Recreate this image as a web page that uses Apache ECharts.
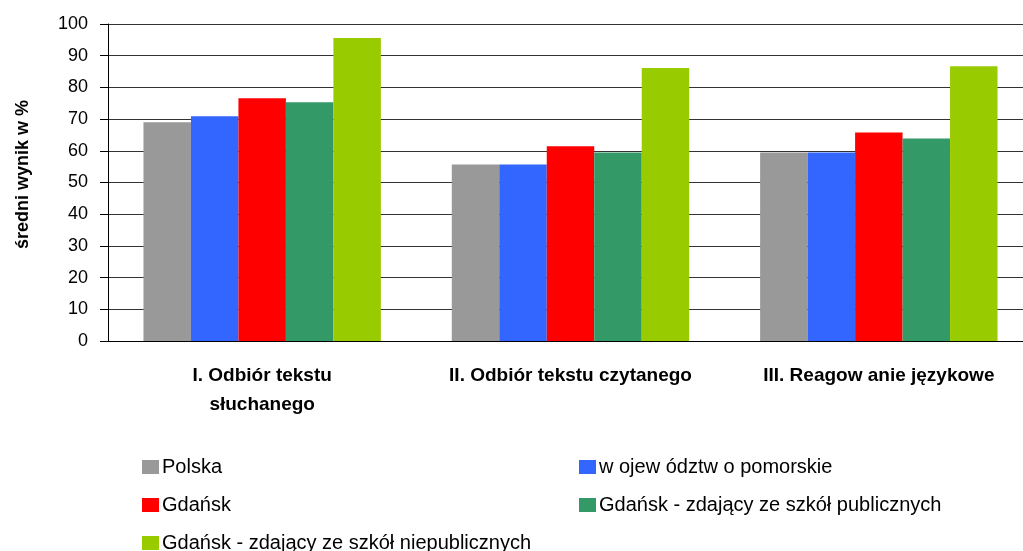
<!DOCTYPE html>
<html lang="pl">
<head>
    <meta charset="UTF-8">
    <title>Średni wynik w %</title>
    <script src="https://cdn.jsdelivr.net/npm/echarts@6/dist/echarts.min.js"></script>
    <style>
        html, body { margin: 0; padding: 0; background: #fff; }
        #main { width: 1023px; height: 551px; }
    </style>
</head>
<body>
    <div id="main"></div>
    <script>
        // dane
        var categories = ['I. Odbiór tekstu\nsłuchanego', 'II. Odbiór tekstu czytanego', 'III. Reagow anie językowe'];
        var seriesNames = ['Polska', 'w ojew ództw o pomorskie', 'Gdańsk',
            'Gdańsk - zdający ze szkół publicznych', 'Gdańsk - zdający ze szkół niepublicznych'];
        var polska = [69.0, 55.7, 59.5];
        var wojewodztwo = [70.9, 55.7, 59.5];
        var gdansk = [76.6, 61.4, 65.8];
        var gdanskPubliczne = [75.3, 59.5, 63.9];
        var gdanskNiepubliczne = [95.6, 86.1, 86.7];
        var colors = ['#999999', '#3366FF', '#FF0000', '#339966', '#99CC00'];

        var font = "'Liberation Sans', Arial, sans-serif";
        var values = [polska, wojewodztwo, gdansk, gdanskPubliczne, gdanskNiepubliczne];

        var series = seriesNames.map(function (name, i) {
            return {
                name: name,
                type: 'bar',
                data: values[i],
                barGap: '0%',
                barCategoryGap: '23%',
                itemStyle: { color: colors[i] }
            };
        });

        var legendBase = {
            orient: 'vertical',
            padding: 0,
            height: 120,
            itemWidth: 17,
            itemHeight: 14,
            itemGap: 18,
            icon: 'rect',
            selectedMode: false,
            textStyle: { fontFamily: font, fontSize: 20, color: '#000', padding: [0, 0, 0, -2] }
        };

        var myChart = echarts.init(document.getElementById('main'));
        myChart.setOption({
            animation: false,
            color: colors,
            textStyle: { fontFamily: font },
            // wykres wychodzi poza prawą krawędź, jak w oryginale
            grid: { left: 108, right: -10, top: 24, bottom: 210, outerBoundsMode: 'none' },
            legend: [
                Object.assign({}, legendBase, { left: 142, top: 457, data: [seriesNames[0], seriesNames[2], seriesNames[4]] }),
                Object.assign({}, legendBase, { left: 579, top: 457, data: [seriesNames[1], seriesNames[3]] })
            ],
            xAxis: {
                type: 'category',
                data: categories,
                axisLine: { lineStyle: { color: '#000', width: 1 } },
                axisTick: { length: 5, lineStyle: { color: '#000' } },
                axisLabel: {
                    margin: 20,
                    color: '#000',
                    fontFamily: font,
                    fontSize: 19,
                    fontWeight: 'bold',
                    lineHeight: 29,
                    interval: 0
                }
            },
            yAxis: {
                type: 'value',
                min: 0,
                max: 100,
                interval: 10,
                name: 'średni wynik w %',
                nameLocation: 'middle',
                nameGap: 76,
                nameTextStyle: { fontFamily: font, fontSize: 18, fontWeight: 'bold', color: '#000', padding: [0, 0, 0, 16] },
                axisLine: { show: true, lineStyle: { color: '#000', width: 1 } },
                axisTick: { show: true, length: 8, lineStyle: { color: '#000' } },
                axisLabel: { margin: 20, color: '#000', fontFamily: font, fontSize: 18 },
                splitLine: { lineStyle: { color: '#333', width: 1 } }
            },
            series: series
        });
    </script>
</body>
</html>
